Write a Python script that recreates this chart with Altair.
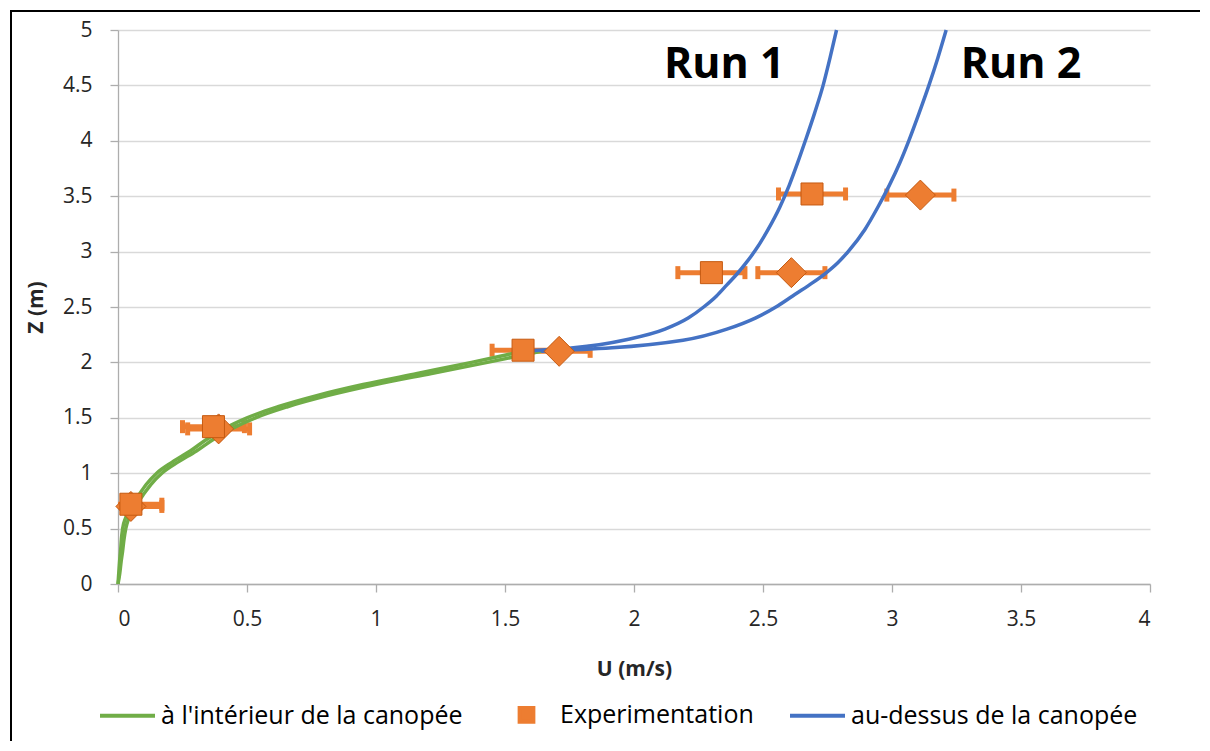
import altair as alt
import pandas as pd

# ---------------- data ----------------
# inside-canopy profiles (green), heights in m, speeds in m/s
z_in = [0.0, 0.1, 0.2, 0.3, 0.4, 0.5, 0.6, 0.7, 0.8, 0.9, 1.0,
        1.1, 1.2, 1.3, 1.4, 1.5, 1.6, 1.7, 1.8, 1.9, 2.0, 2.1]
u_in_run1 = [0.0, 0.003, 0.006, 0.010, 0.013, 0.018, 0.03, 0.05, 0.08, 0.11, 0.15,
             0.21, 0.28, 0.34, 0.41, 0.50, 0.62, 0.77, 0.95, 1.16, 1.37, 1.57]
u_in_run2 = [0.0, 0.007, 0.012, 0.018, 0.023, 0.030, 0.043, 0.065, 0.096, 0.128, 0.17,
             0.232, 0.304, 0.366, 0.44, 0.533, 0.657, 0.812, 0.998, 1.215, 1.432, 1.64]

# above-canopy profiles (blue)
z_above = [2.1, 2.2, 2.3, 2.4, 2.5, 2.6, 2.7, 2.8, 2.9, 3.0,
           3.2, 3.4, 3.6, 3.8, 4.0, 4.25, 4.5, 4.75, 5.0]
u_above_run1 = [1.57, 1.96, 2.12, 2.21, 2.27, 2.32, 2.36, 2.40, 2.435, 2.467,
                2.52, 2.565, 2.602, 2.634, 2.664, 2.70, 2.733, 2.76, 2.785]
u_above_run2 = [1.64, 2.19, 2.36, 2.47, 2.55, 2.615, 2.68, 2.74, 2.79, 2.83,
                2.895, 2.945, 2.99, 3.03, 3.065, 3.105, 3.143, 3.178, 3.21]

# experimental points with horizontal error bars
exp_z_run1 = [0.72, 1.42, 2.11, 2.81, 3.52]
exp_u_run1 = [0.05, 0.37, 1.57, 2.30, 2.69]
exp_err_run1 = [0.12, 0.12, 0.12, 0.13, 0.13]
exp_z_run2 = [0.70, 1.40, 2.10, 2.81, 3.51]
exp_u_run2 = [0.05, 0.39, 1.71, 2.61, 3.11]
exp_err_run2 = [0.12, 0.12, 0.12, 0.13, 0.13]

legend_labels = ["à l'intérieur de la canopée", "Experimentation", "au-dessus de la canopée"]
legend_strokes = ["#70AD47", "#ED7D31", "#4472C4"]
legend_fills = ["transparent", "#ED7D31", "transparent"]
legend_shapes = ["stroke", "M-0.25,-0.25L0.25,-0.25L0.25,0.25L-0.25,0.25Z", "stroke"]

run_labels = ["Run 1", "Run 2"]
run_label_u = [2.35, 3.50]
run_label_z = [4.57, 4.57]

x_ticks = [0, 0.5, 1, 1.5, 2, 2.5, 3, 3.5, 4]
y_ticks = [0, 0.5, 1, 1.5, 2, 2.5, 3, 3.5, 4, 4.5, 5]

FONT = "Open Sans"
ORANGE = "#ED7D31"
ORANGE_DARK = "#C55A11"

# ---------------- tables ----------------
rows = []
for run, us in (("run1", u_in_run1), ("run2", u_in_run2)):
    for i, (z, u) in enumerate(zip(z_in, us)):
        rows.append({"U": u, "Z": z, "series": legend_labels[0], "run": "in_" + run, "i": i})
for run, us in (("run1", u_above_run1), ("run2", u_above_run2)):
    for i, (z, u) in enumerate(zip(z_above, us)):
        rows.append({"U": u, "Z": z, "series": legend_labels[2], "run": "ab_" + run, "i": i})
lines_df = pd.DataFrame(rows)

exp_rows = []
for run, zs, us, es in (("run1", exp_z_run1, exp_u_run1, exp_err_run1),
                        ("run2", exp_z_run2, exp_u_run2, exp_err_run2)):
    for z, u, e in zip(zs, us, es):
        exp_rows.append({"U": u, "Z": z, "lo": u - e, "hi": u + e, "run": run})
exp_df = pd.DataFrame(exp_rows)
caps_df = pd.concat([
    exp_df[["Z", "lo"]].rename(columns={"lo": "C"}),
    exp_df[["Z", "hi"]].rename(columns={"hi": "C"}),
], ignore_index=True)

labels_df = pd.DataFrame({"label": run_labels, "U": run_label_u, "Z": run_label_z})
legend_df = pd.DataFrame({"series": legend_labels})

xscale = alt.Scale(domain=[0, 4], nice=False, zero=False)
yscale = alt.Scale(domain=[0, 5], nice=False, zero=False)

xaxis = alt.Axis(values=x_ticks, format="~g", title="U (m/s)", grid=False,
                 tickSize=8, labelPadding=16, titlePadding=29)
yaxis = alt.Axis(values=y_ticks, format="~g", title="Z (m)", grid=True,
                 tickSize=8, labelPadding=18, titlePadding=16)

legend = alt.Legend(
    title=None, orient="none", legendX=-27, legendY=655, direction="horizontal",
    symbolSize=3025, symbolStrokeWidth=4, labelLimit=500,
    labelFont=FONT, labelFontSize=25, labelColor="#000000",
    symbolOffset=7, columnPadding=27, padding=0, symbolOpacity=1,
)

border = alt.Chart(pd.DataFrame({"k": [0]})).mark_rect(
    fill=None, stroke="#000000", strokeWidth=2
).encode(x=alt.value(-107), x2=alt.value(3000), y=alt.value(-19), y2=alt.value(3000))

err_rules = alt.Chart(exp_df).mark_rule(color=ORANGE, strokeWidth=5, clip=True).encode(
    x=alt.X("lo:Q", scale=xscale, axis=xaxis), x2="hi:Q",
    y=alt.Y("Z:Q", scale=yscale, axis=yaxis),
)
err_caps = alt.Chart(caps_df).mark_tick(
    color=ORANGE, thickness=5, size=13, orient="vertical", opacity=1, clip=True
).encode(x=alt.X("C:Q", scale=xscale), y=alt.Y("Z:Q", scale=yscale))

stroke_scale = alt.Scale(domain=legend_labels, range=legend_strokes)

lines = alt.Chart(lines_df).mark_line(strokeWidth=3.5, interpolate="monotone").encode(
    x=alt.X("U:Q", scale=xscale, axis=xaxis),
    y=alt.Y("Z:Q", scale=yscale, axis=yaxis),
    stroke=alt.Stroke("series:N", scale=stroke_scale, legend=legend),
    detail="run:N",
    order="i:Q",
)

# legend-only layer (no rows survive the filter): supplies symbol shapes and fills
legend_layer = alt.Chart(legend_df).transform_filter("false").mark_point(
    filled=True, opacity=1, strokeWidth=4
).encode(
    stroke=alt.Stroke("series:N", scale=stroke_scale, legend=legend),
    fill=alt.Fill("series:N", scale=alt.Scale(domain=legend_labels, range=legend_fills), legend=legend),
    shape=alt.Shape("series:N", scale=alt.Scale(domain=legend_labels, range=legend_shapes), legend=legend),
)

diamonds = alt.Chart(exp_df[exp_df.run == "run2"]).mark_point(
    shape="diamond", size=900, filled=True, fill=ORANGE, stroke=ORANGE_DARK,
    strokeWidth=1, opacity=1
).encode(x=alt.X("U:Q", scale=xscale), y=alt.Y("Z:Q", scale=yscale))

squares = alt.Chart(exp_df[exp_df.run == "run1"]).mark_point(
    shape="square", size=484, filled=True, fill=ORANGE, stroke=ORANGE_DARK,
    strokeWidth=1, opacity=1
).encode(x=alt.X("U:Q", scale=xscale), y=alt.Y("Z:Q", scale=yscale))

run_text = alt.Chart(labels_df).mark_text(
    font=FONT, fontSize=43, fontWeight="bold", color="#000000",
    align="center", baseline="alphabetic"
).encode(x=alt.X("U:Q", scale=xscale), y=alt.Y("Z:Q", scale=yscale), text="label:N")

chart = alt.layer(
    border, err_rules, err_caps, lines, legend_layer, diamonds, squares, run_text
).properties(
    width=1032, height=554,
    autosize=alt.AutoSizeParams(type="none"),
    padding={"left": 110, "top": 22, "right": 50, "bottom": 157},
).configure_view(stroke=None).configure_axis(
    labelFont=FONT, labelFontSize=21, labelColor="#262626",
    titleFont=FONT, titleFontSize=21, titleFontWeight="bold", titleColor="#262626",
    domainColor="#ADADAD", tickColor="#ADADAD", gridColor="#D9D9D9",
    domainWidth=1.3, tickWidth=1.3, gridWidth=1.3,
)

chart.save("out.html", embed_options={"renderer": "svg", "actions": False})
